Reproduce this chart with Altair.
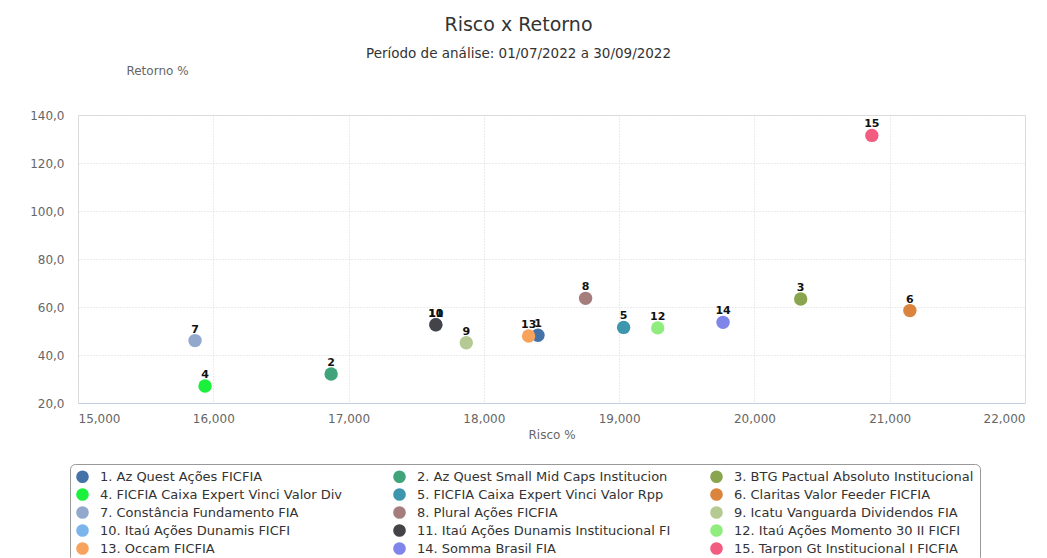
import altair as alt
import pandas as pd

names = [
    "1. Az Quest Ações FICFIA",
    "2. Az Quest Small Mid Caps Institucion",
    "3. BTG Pactual Absoluto Institucional",
    "4. FICFIA Caixa Expert Vinci Valor Div",
    "5. FICFIA Caixa Expert Vinci Valor Rpp",
    "6. Claritas Valor Feeder FICFIA",
    "7. Constância Fundamento FIA",
    "8. Plural Ações FICFIA",
    "9. Icatu Vanguarda Dividendos FIA",
    "10. Itaú Ações Dunamis FICFI",
    "11. Itaú Ações Dunamis Institucional FI",
    "12. Itaú Ações Momento 30 II FICFI",
    "13. Occam FICFIA",
    "14. Somma Brasil FIA",
    "15. Tarpon Gt Institucional I FICFIA",
]
point_labels = [str(i) for i in range(1, 16)]
risco = [18.400, 16.871, 20.342, 15.939, 19.033, 21.149, 15.865, 18.752,
         17.870, 17.645, 17.645, 19.285, 18.331, 19.768, 20.868]
retorno = [48.2, 32.1, 63.3, 27.1, 51.5, 58.5, 46.0, 63.6,
           45.1, 52.6, 52.6, 51.3, 47.9, 53.6, 131.5]
colors = ["#4572A7", "#40A47A", "#89A54E", "#1BF03C", "#3D96AE", "#DB843D",
          "#92A8CD", "#A47D7C", "#B5CA92", "#7CB5EC", "#434348", "#90ED7D",
          "#F7A35C", "#8085E9", "#F15C80"]
x_ticks = [15, 16, 17, 18, 19, 20, 21, 22]
y_ticks = [20, 40, 60, 80, 100, 120, 140]

# legend fills column by column: reorder so that rows read 1,2,3 / 4,5,6 ...
n_cols, n_rows = 3, 5
legend_idx = [r * n_cols + c for c in range(n_cols) for r in range(n_rows)]
legend_names = [names[i] for i in legend_idx]
legend_colors = [colors[i] for i in legend_idx]

df = pd.DataFrame({"nome": names, "rotulo": point_labels,
                   "risco": risco, "retorno": retorno})

FONT = "DejaVu Sans"

x = alt.X("risco:Q", title="Risco %",
          scale=alt.Scale(domain=[15, 22], nice=False, zero=False),
          axis=alt.Axis(values=x_ticks,
                        labelExpr="replace(format(datum.value, '.3f'), '.', ',')",
                        grid=True, gridDash=[1, 2], gridColor="#D9D9D9",
                        domainColor="#C0D0E0", ticks=False,
                        labelPadding=10, labelFontSize=12, labelColor="#666666",
                        labelFont=FONT, titleFont=FONT, titleFontSize=12,
                        titleFontWeight="normal", titleColor="#666666",
                        titlePadding=5))
y = alt.Y("retorno:Q", title="Retorno %",
          scale=alt.Scale(domain=[20, 140], nice=False, zero=False),
          axis=alt.Axis(values=y_ticks,
                        labelExpr="replace(format(datum.value, '.1f'), '.', ',')",
                        grid=True, gridDash=[1, 2], gridColor="#D9D9D9",
                        domain=False, ticks=False,
                        labelPadding=14, labelFontSize=12, labelColor="#666666",
                        labelFont=FONT, titleFont=FONT, titleFontSize=12,
                        titleFontWeight="normal", titleColor="#666666",
                        titleAngle=0, titleAlign="center", titleBaseline="middle",
                        titleX=79, titleY=-45))

color = alt.Color("nome:N",
                  scale=alt.Scale(domain=legend_names, range=legend_colors),
                  legend=alt.Legend(title=None, orient="none", legendX=-8, legendY=349,
                                    columns=n_cols, gridAlign="all", columnPadding=39,
                                    rowPadding=4, symbolType="circle", symbolSize=160,
                                    symbolStrokeWidth=0, symbolOpacity=1,
                                    labelFont=FONT, labelFontSize=13, labelColor="#333333",
                                    labelLimit=400, labelOffset=11,
                                    strokeColor="#999999", fillColor="white",
                                    cornerRadius=5, padding=6))

points = alt.Chart(df).mark_circle(size=180, opacity=1).encode(
    x=x, y=y, color=color,
    tooltip=["nome", "risco", "retorno"])

texts = alt.Chart(df).mark_text(font=FONT, fontSize=11, fontWeight="bold",
                                color="#111111", dy=-8, baseline="alphabetic").encode(
    x="risco:Q", y="retorno:Q", text="rotulo:N")

chart = alt.layer(points, texts).properties(
    width=947, height=288,
    title=alt.TitleParams("Risco x Retorno",
                          subtitle="Período de análise: 01/07/2022 a 30/09/2022",
                          anchor="middle", dx=-33, offset=4,
                          font=FONT, fontSize=19, fontWeight="normal", color="#333333",
                          subtitleFont=FONT, subtitleFontSize=13.5,
                          subtitleColor="#333333", subtitlePadding=12),
    autosize=alt.AutoSizeParams(type="none"),
    padding={"left": 70, "top": 107, "right": 14, "bottom": 155},
).configure_view(stroke=None).configure(background="white")

chart.save("out.html", embed_options={"renderer": "svg", "actions": False})
